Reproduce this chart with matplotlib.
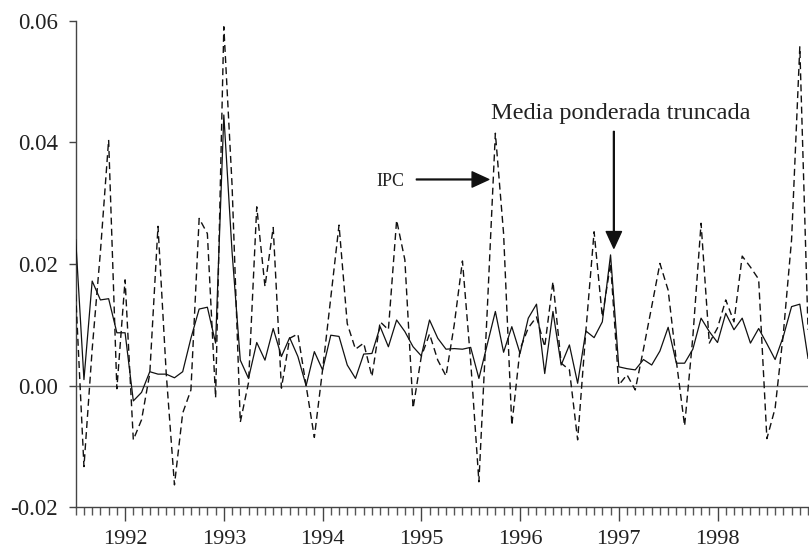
import numpy as np
import matplotlib
matplotlib.use("Agg")
import matplotlib.pyplot as plt
from matplotlib.ticker import FixedLocator, MultipleLocator

# Monthly data, July 1991 .. December 1998 (90 months)
ipc = [0.015, -0.0133, 0.006, 0.022, 0.0404, -0.0005, 0.0174, -0.0089, -0.0056, 0.002,
       0.0262, 0.002, -0.0163, -0.0045, -0.0007, 0.0275, 0.025, -0.002, 0.059, 0.033,
       -0.006, 0.0005, 0.0294, 0.0163, 0.026, -0.0004, 0.0078, 0.0085, 0.0, -0.0085,
       0.0026, 0.0145, 0.0264, 0.0102, 0.006, 0.007, 0.0015, 0.0105, 0.0092, 0.0272,
       0.0207, -0.0037, 0.0048, 0.0085, 0.0042, 0.0016, 0.010, 0.0205, 0.004, -0.0158,
       0.012, 0.0415, 0.025, -0.0065, 0.006, 0.0095, 0.0113, 0.0064, 0.0171, 0.0037,
       0.0026, -0.0089, 0.009, 0.0253, 0.0113, 0.0201, 0.0001, 0.0018, -0.0007, 0.006,
       0.013, 0.0201, 0.0157, 0.004, -0.0066, 0.008, 0.0267, 0.007, 0.0095, 0.0141,
       0.0105, 0.0213, 0.0195, 0.0175, -0.0087, -0.0037, 0.0086, 0.024, 0.0557, 0.0092]

mpt = [0.024, 0.001, 0.0172, 0.0141, 0.0143, 0.0087, 0.0087, -0.0025, -0.0011, 0.0023,
       0.0019, 0.0019, 0.0013, 0.0023, 0.0078, 0.0126, 0.0129, 0.007, 0.0445, 0.022,
       0.0042, 0.0012, 0.0071, 0.0042, 0.0094, 0.0048, 0.0079, 0.0048, 0.0, 0.0056,
       0.0026, 0.0083, 0.0081, 0.0034, 0.0012, 0.0052, 0.0053, 0.0097, 0.0064, 0.0108,
       0.0089, 0.0064, 0.0049, 0.0108, 0.0078, 0.006, 0.0061, 0.006, 0.0063, 0.0012,
       0.0067, 0.0122, 0.0055, 0.0097, 0.0053, 0.0111, 0.0134, 0.002, 0.0122, 0.0034,
       0.0067, 0.0004, 0.009, 0.0079, 0.0105, 0.0215, 0.0031, 0.0028, 0.0026, 0.0043,
       0.0034, 0.0057, 0.0096, 0.0037, 0.0037, 0.006, 0.0111, 0.0089, 0.0071, 0.0119,
       0.0092, 0.0111, 0.007, 0.0094, 0.0069, 0.0043, 0.0081, 0.013, 0.0134, 0.0045]

years = ["1992", "1993", "1994", "1995", "1996", "1997", "1998"]
year_pos = [6, 18, 30, 42, 54, 66, 78]
yticks = [-0.02, 0.0, 0.02, 0.04, 0.06]
ytick_labels = ["-0.02", "0.00", "0.02", "0.04", "0.06"]

plt.rcParams['font.family'] = ['Liberation Serif', 'DejaVu Serif']

fig = plt.figure(figsize=(8.09, 5.5), dpi=100)
ax = fig.add_axes([0.0936, 0.0775, 0.9052, 0.8849])

x = np.arange(len(ipc))
ax.axhline(0, color='#6e6e6e', lw=1.0, zorder=1)
ax.plot(x, ipc, color='#111111', lw=1.0, ls=(0, (5, 3)), zorder=3)
ax.plot(x, mpt, color='#111111', lw=0.9, zorder=4)

ax.set_xlim(0, len(ipc) - 1)
ax.set_ylim(-0.02, 0.06)

for s in ['top', 'right']:
    ax.spines[s].set_visible(False)
for s in ['left', 'bottom']:
    ax.spines[s].set_color('#444444')
    ax.spines[s].set_linewidth(1.0)

ax.set_yticks(yticks)
ax.set_yticklabels(ytick_labels, fontsize=16.5, color='#222222')
ax.tick_params(axis='y', direction='out', length=5, width=1, color='#444444', pad=8)

ax.xaxis.set_major_locator(FixedLocator(year_pos))
ax.set_xticklabels(years, fontsize=16, color='#222222')
ax.xaxis.set_minor_locator(MultipleLocator(1))
ax.tick_params(axis='x', which='major', direction='out', length=10, width=1,
               color='#444444', pad=6)
ax.tick_params(axis='x', which='minor', direction='out', length=6, width=1,
               color='#555555')

ax.annotate("", xy=(50.2, 0.0339), xytext=(41.4, 0.0339),
            arrowprops=dict(width=0.6, headwidth=11, headlength=12,
                            facecolor='#111111', edgecolor='#111111', shrink=0))
ax.text(38.2, 0.0335, "IPC", fontsize=13, ha='center', va='center', color='#222222')

ax.annotate("", xy=(65.4, 0.0226), xytext=(65.4, 0.0418),
            arrowprops=dict(width=0.6, headwidth=11, headlength=12,
                            facecolor='#111111', edgecolor='#111111', shrink=0))
ax.text(66.2, 0.0447, "Media ponderada truncada", fontsize=17.5, ha='center',
        va='center', color='#222222')

fig.savefig("out.png", dpi=100)
